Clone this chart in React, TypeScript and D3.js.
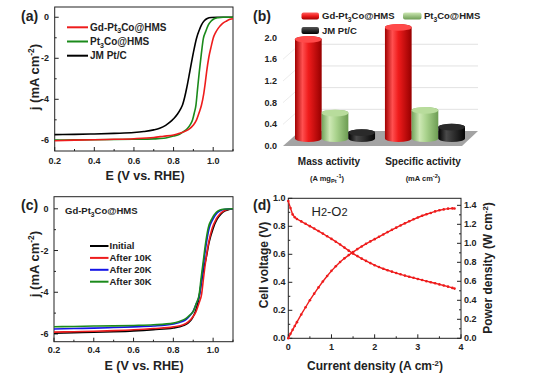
import React from 'react';
import * as d3 from 'd3';

const FONT = "'Liberation Sans', Arial, Helvetica, sans-serif";

// ---------- Panel (a): LSV curves ----------
const aGd: [number, number][] = [[0.2,-6.02],[0.3,-5.99],[0.4,-5.97],[0.5,-5.95],[0.6,-5.92],[0.7,-5.86],[0.75,-5.8],[0.8,-5.74],[0.83,-5.66],[0.86,-5.55],[0.88,-5.44],[0.9,-5.25],[0.916,-5.0],[0.93,-4.62],[0.941,-4.28],[0.952,-3.75],[0.96,-3.2],[0.967,-2.65],[0.978,-1.95],[0.99,-1.42],[1.0,-1.02],[1.012,-0.75],[1.025,-0.54],[1.045,-0.32],[1.068,-0.18],[1.085,-0.1],[1.1,-0.07]];
const aPt3Co: [number, number][] = [[0.2,-5.99],[0.3,-5.98],[0.4,-5.97],[0.5,-5.96],[0.6,-5.95],[0.7,-5.93],[0.75,-5.9],[0.78,-5.84],[0.8,-5.79],[0.83,-5.7],[0.85,-5.58],[0.87,-5.42],[0.885,-5.22],[0.896,-5.0],[0.905,-4.65],[0.913,-4.28],[0.921,-3.5],[0.93,-2.65],[0.94,-1.8],[0.95,-1.05],[0.962,-0.7],[0.975,-0.38],[0.99,-0.18],[1.005,-0.07],[1.025,-0.02],[1.05,0],[1.1,0]];
const aJM: [number, number][] = [[0.2,-5.72],[0.3,-5.71],[0.4,-5.69],[0.5,-5.66],[0.6,-5.62],[0.65,-5.57],[0.7,-5.49],[0.73,-5.41],[0.76,-5.27],[0.78,-5.13],[0.8,-4.95],[0.82,-4.72],[0.835,-4.48],[0.846,-4.25],[0.856,-3.9],[0.866,-3.46],[0.882,-2.65],[0.9,-1.72],[0.916,-1.02],[0.93,-0.62],[0.941,-0.37],[0.955,-0.17],[0.97,-0.06],[0.99,-0.01],[1.02,0],[1.1,0]];

// ---------- Panel (b): 3D bars ----------
const bCategories = ['Mass activity', 'Specific activity'];
const bSeries = ['Gd', 'Pt3Co', 'JM'];
const bMass = [1.83, 0.47, 0.11];
const bSpecific = [2.05, 0.52, 0.21];
const bTicks = [0, 0.4, 0.8, 1.2, 1.6, 2.0];
const bGrid = [0, 0.4, 0.8, 1.2, 1.6];

// ---------- Panel (c): durability ----------
const cInitial: [number, number][] = [[0.2,-5.96],[0.3,-5.94],[0.4,-5.92],[0.5,-5.89],[0.6,-5.85],[0.7,-5.79],[0.8,-5.71],[0.85,-5.6],[0.875,-5.47],[0.895,-5.25],[0.91,-4.95],[0.925,-4.45],[0.94,-3.6],[0.952,-2.9],[0.963,-2.45],[0.98,-1.6],[1.0,-0.94],[1.02,-0.5],[1.04,-0.25],[1.06,-0.1],[1.08,-0.03],[1.1,0]];
const c10K: [number, number][] = [[0.2,-5.91],[0.3,-5.89],[0.4,-5.87],[0.5,-5.84],[0.6,-5.8],[0.7,-5.74],[0.8,-5.66],[0.85,-5.56],[0.875,-5.42],[0.895,-5.22],[0.913,-4.95],[0.928,-4.55],[0.942,-4.1],[0.952,-3.3],[0.962,-2.55],[0.978,-1.6],[0.995,-0.94],[1.015,-0.5],[1.035,-0.24],[1.055,-0.09],[1.075,-0.03],[1.1,0]];
const c20K: [number, number][] = [[0.2,-5.76],[0.3,-5.74],[0.4,-5.72],[0.5,-5.69],[0.6,-5.66],[0.7,-5.62],[0.8,-5.52],[0.84,-5.42],[0.865,-5.3],[0.885,-5.1],[0.9,-4.9],[0.915,-4.55],[0.932,-4.1],[0.943,-3.3],[0.953,-2.55],[0.967,-1.6],[0.98,-0.94],[1.0,-0.48],[1.02,-0.2],[1.04,-0.07],[1.06,-0.02],[1.1,0]];
const c30K: [number, number][] = [[0.2,-5.65],[0.3,-5.64],[0.4,-5.62],[0.5,-5.61],[0.6,-5.59],[0.7,-5.56],[0.8,-5.48],[0.83,-5.4],[0.86,-5.28],[0.88,-5.12],[0.9,-4.92],[0.915,-4.55],[0.93,-4.1],[0.94,-3.3],[0.95,-2.55],[0.963,-1.6],[0.975,-0.94],[0.995,-0.46],[1.015,-0.18],[1.035,-0.06],[1.05,-0.02],[1.1,0]];
const cLegend = ['Initial', 'After 10K', 'After 20K', 'After 30K'];

// ---------- Panel (d): fuel cell ----------
const dCurrent = [0,0.05,0.1,0.15,0.2,0.3,0.4,0.5,0.6,0.7,0.8,0.9,1.0,1.1,1.2,1.3,1.4,1.5,1.6,1.7,1.8,1.9,2.0,2.1,2.2,2.3,2.4,2.5,2.6,2.7,2.8,2.9,3.0,3.1,3.2,3.3,3.4,3.5,3.6,3.7,3.8,3.85];
const dVoltage = [0.98,0.93,0.885,0.865,0.852,0.835,0.818,0.801,0.784,0.766,0.748,0.729,0.71,0.69,0.67,0.648,0.626,0.605,0.587,0.569,0.553,0.537,0.522,0.509,0.497,0.486,0.476,0.466,0.457,0.448,0.44,0.432,0.424,0.416,0.408,0.4,0.393,0.385,0.377,0.369,0.36,0.355];
const dPower = [0,0.047,0.089,0.13,0.17,0.251,0.327,0.401,0.47,0.536,0.598,0.656,0.71,0.759,0.804,0.842,0.876,0.908,0.939,0.967,0.995,1.02,1.044,1.069,1.093,1.118,1.142,1.165,1.188,1.21,1.232,1.253,1.272,1.29,1.306,1.32,1.336,1.348,1.357,1.365,1.368,1.367];

const RED = '#ee1c1c';
const GREEN = '#1b8a1b';
const BLUE = '#1414e6';

type Sc = d3.ScaleLinear<number, number>;

function Frame({ x, y, xMajor, xMinor, yMajor, yMinor, xFmt, yFmt, xLabelY, yLabelX }:
  { x: Sc; y: Sc; xMajor: number[]; xMinor: number[]; yMajor: number[]; yMinor: number[]; xFmt: (v: number) => string; yFmt: (v: number) => string; xLabelY: number; yLabelX: number }) {
  const [x0, x1] = x.range();
  const [y0, y1] = y.range();
  return (
    <g>
      <rect x={x0} y={y1} width={x1 - x0} height={y0 - y1} fill="none" stroke="#222" strokeWidth={1} />
      {xMajor.map((v) => <line key={'xM' + v} x1={x(v)} x2={x(v)} y1={y0} y2={y0 - 4} stroke="#222" />)}
      {xMinor.map((v) => <line key={'xm' + v} x1={x(v)} x2={x(v)} y1={y0} y2={y0 - 2} stroke="#222" />)}
      {yMajor.map((v) => <line key={'yM' + v} x1={x0} x2={x0 + 4} y1={y(v)} y2={y(v)} stroke="#222" />)}
      {yMinor.map((v) => <line key={'ym' + v} x1={x0} x2={x0 + 2} y1={y(v)} y2={y(v)} stroke="#222" />)}
      {xMajor.map((v) => <text key={'xl' + v} x={x(v)} y={xLabelY} textAnchor="middle" fontSize={9} fontWeight="bold" fill="#222">{xFmt(v)}</text>)}
      {yMajor.map((v) => <text key={'yl' + v} x={yLabelX} y={y(v)} dy="0.35em" textAnchor="end" fontSize={9} fontWeight="bold" fill="#222">{yFmt(v)}</text>)}
    </g>
  );
}

function PtCo({ prefix }: { prefix: string }) {
  return (
    <>
      {prefix}Pt<tspan dy={2.5} fontSize="0.7em">3</tspan><tspan dy={-2.5}>Co@HMS</tspan>
    </>
  );
}

function JTitle({ cx, cy }: { cx: number; cy: number }) {
  return (
    <text transform={`translate(${cx},${cy}) rotate(-90)`} textAnchor="middle" dy="0.35em" fontSize={13} fontWeight="bold" fill="#222">
      j (mA cm<tspan dy={-5} fontSize="0.65em">-2</tspan><tspan dy={5}>)</tspan>
    </text>
  );
}

function Cylinder({ cx, rx, ry, base, top, grad, topFill }: { cx: number; rx: number; ry: number; base: number; top: number; grad: string; topFill: string }) {
  const d = `M${cx - rx},${top} L${cx - rx},${base} A${rx},${ry} 0 0 0 ${cx + rx},${base} L${cx + rx},${top} A${rx},${ry} 0 0 0 ${cx - rx},${top} Z`;
  return (
    <g>
      <path d={d} fill={`url(#${grad})`} />
      <ellipse cx={cx} cy={top} rx={rx} ry={ry} fill={topFill} />
    </g>
  );
}

export default function App() {
  const line = (x: Sc, y: Sc) => d3.line<[number, number]>().x((d) => x(d[0])).y((d) => y(d[1])).curve(d3.curveMonotoneX);
  const f1 = d3.format('.1f');

  // (a)
  const ax = d3.scaleLinear().domain([0.2, 1.1]).range([54.7, 233]);
  const ay = d3.scaleLinear().domain([-6.52, 0.5]).range([151, 7]);
  const aLine = line(ax, ay);
  // (c)
  const cxs = d3.scaleLinear().domain([0.2, 1.1]).range([54, 233]);
  const cys = d3.scaleLinear().domain([-6.37, 0.58]).range([341.7, 196.7]);
  const cLine = line(cxs, cys);
  // (d)
  const dx = d3.scaleLinear().domain([0, 4]).range([288.3, 461]);
  const dyL = d3.scaleLinear().domain([0, 1]).range([338.3, 198.3]);
  const dyR = d3.scaleLinear().domain([0, 1.474]).range([338.3, 198.3]);
  const vPts: [number, number][] = dCurrent.map((j, i) => [j, dVoltage[i]]);
  const pPts: [number, number][] = dCurrent.map((j, i) => [j, dPower[i]]);
  const vLine = d3.line<[number, number]>().x((d) => dx(d[0])).y((d) => dyL(d[1]));
  const pLine = d3.line<[number, number]>().x((d) => dx(d[0])).y((d) => dyR(d[1]));

  // (b)
  const bY = d3.scaleLinear().domain([0, 2]).range([146, 37.6]);
  const hPix = (v: number) => bY(0) - bY(v);
  const bBand = d3.scaleBand<string>().domain(bCategories).range([295, 465]).paddingInner(0.11);
  const bInner = d3.scaleBand<string>().domain(bSeries).range([0, bBand.bandwidth()]);
  const bBase = 138.5;
  const grads = ['gRed', 'gGreen', 'gBlack'];
  const tops = ['#ff4a4a', '#b8dc9c', '#2a2a2a'];
  const groups = [bMass, bSpecific];
  const backY = (v: number) => 131 - hPix(v);

  const colorsA = [RED, GREEN, '#000'];
  const colorsC = ['#000', RED, BLUE, GREEN];

  return (
    <svg width={541} height={379} style={{ display: 'block', position: 'absolute', left: 0, top: 0, background: '#fff' }} fontFamily={FONT}>
      <defs>
        <linearGradient id="gRed" x1="0" x2="1" y1="0" y2="0">
          <stop offset="0%" stopColor="#a00000" />
          <stop offset="28%" stopColor="#ff5050" />
          <stop offset="50%" stopColor="#f01c1c" />
          <stop offset="100%" stopColor="#960000" />
        </linearGradient>
        <linearGradient id="gGreen" x1="0" x2="1" y1="0" y2="0">
          <stop offset="0%" stopColor="#72a35a" />
          <stop offset="30%" stopColor="#cde8b4" />
          <stop offset="55%" stopColor="#a9d28c" />
          <stop offset="100%" stopColor="#6c9c52" />
        </linearGradient>
        <linearGradient id="gBlack" x1="0" x2="1" y1="0" y2="0">
          <stop offset="0%" stopColor="#000" />
          <stop offset="30%" stopColor="#4a4a4a" />
          <stop offset="100%" stopColor="#050505" />
        </linearGradient>
        <linearGradient id="sRed" x1="0" x2="0" y1="0" y2="1">
          <stop offset="0%" stopColor="#ff6060" />
          <stop offset="50%" stopColor="#ee1c1c" />
          <stop offset="100%" stopColor="#a00000" />
        </linearGradient>
        <linearGradient id="sGreen" x1="0" x2="0" y1="0" y2="1">
          <stop offset="0%" stopColor="#cde8b4" />
          <stop offset="100%" stopColor="#6c9c52" />
        </linearGradient>
        <linearGradient id="sBlack" x1="0" x2="0" y1="0" y2="1">
          <stop offset="0%" stopColor="#555" />
          <stop offset="100%" stopColor="#000" />
        </linearGradient>
      </defs>

      {/* ===== Panel (a) ===== */}
      <text x={21} y={21} fontSize={14} fontWeight="bold" fill="#222">(a)</text>
      <Frame x={ax} y={ay} xMajor={[0.2, 0.4, 0.6, 0.8, 1.0]} xMinor={[0.3, 0.5, 0.7, 0.9, 1.1]}
        yMajor={[0, -2, -4, -6]} yMinor={[-1, -3, -5]} xFmt={f1} yFmt={(v) => String(v)} xLabelY={163.5} yLabelX={49} />
      {[aJM, aPt3Co, aGd].map((s, i) => (
        <path key={'a' + i} d={aLine(s) || ''} fill="none" stroke={[colorsA[2], colorsA[1], colorsA[0]][i]} strokeWidth={1.6} />
      ))}
      {[0, 1, 2].map((i) => (
        <g key={'al' + i}>
          <line x1={67} x2={88} y1={27.3 + i * 14.2} y2={27.3 + i * 14.2} stroke={colorsA[i]} strokeWidth={2} />
          <text x={90} y={27.3 + i * 14.2} dy="0.35em" fontSize={10} fontWeight="bold" fill="#222">
            {i === 0 ? <PtCo prefix="Gd-" /> : i === 1 ? <PtCo prefix="" /> : 'JM Pt/C'}
          </text>
        </g>
      ))}
      <JTitle cx={34.5} cy={77} />
      <text x={145} y={180} textAnchor="middle" fontSize={12.5} fontWeight="bold" fill="#222">E (V vs. RHE)</text>

      {/* ===== Panel (b) ===== */}
      <text x={253} y={21} fontSize={14} fontWeight="bold" fill="#222">(b)</text>
      <polygon points={`283,146 462,146 478,131 300,131`} fill="#a3a3a3" />
      {bGrid.map((v) => (
        <g key={'bg' + v}>
          {v > 0 && <line x1={300} x2={478} y1={backY(v)} y2={backY(v)} stroke="#e2e2e2" strokeWidth={1} />}
          {v > 0 && <line x1={283} x2={300} y1={bY(v)} y2={backY(v)} stroke="#ececec" strokeWidth={1} />}
        </g>
      ))}
      {bTicks.map((v) => (
        <text key={'bt' + v} x={277} y={bY(v)} dy="0.35em" textAnchor="end" fontSize={9} fontWeight="bold" fill="#222">{f1(v)}</text>
      ))}
      {bCategories.map((c, gi) => (
        <g key={c}>
          {bSeries.map((s, si) => {
            const x0 = (bBand(c) || 0) + (bInner(s) || 0);
            const rx = bInner.bandwidth() / 2;
            return (
              <Cylinder key={s} cx={x0 + rx} rx={rx} ry={3.4} base={bBase} top={bBase - hPix(groups[gi][si])} grad={grads[si]} topFill={tops[si]} />
            );
          })}
        </g>
      ))}
      <text x={329} y={165} textAnchor="middle" fontSize={10} fontWeight="bold" fill="#222">Mass activity</text>
      <text x={327} y={181} textAnchor="middle" fontSize={7.5} fontWeight="bold" fill="#222">
        (A mg<tspan dy={2} fontSize="0.75em">Pt</tspan><tspan dy={-5} fontSize="0.75em">-1</tspan><tspan dy={3}>)</tspan>
      </text>
      <text x={423} y={165} textAnchor="middle" fontSize={10} fontWeight="bold" fill="#222">Specific activity</text>
      <text x={423} y={181} textAnchor="middle" fontSize={7.5} fontWeight="bold" fill="#222">
        (mA cm<tspan dy={-3} fontSize="0.75em">-2</tspan><tspan dy={3}>)</tspan>
      </text>
      {/* legend (b) */}
      <rect x={301.5} y={12.5} width={17.5} height={7} rx={2} fill="url(#sRed)" />
      <text x={322} y={16} dy="0.35em" fontSize={9.5} fontWeight="bold" fill="#222"><PtCo prefix="Gd-" /></text>
      <rect x={403} y={12.5} width={18.5} height={7} rx={2} fill="url(#sGreen)" />
      <text x={424} y={16} dy="0.35em" fontSize={9.5} fontWeight="bold" fill="#222"><PtCo prefix="" /></text>
      <rect x={301.5} y={27} width={17.5} height={7} rx={2} fill="url(#sBlack)" />
      <text x={322} y={30.5} dy="0.35em" fontSize={9.5} fontWeight="bold" fill="#222">JM Pt/C</text>

      {/* ===== Panel (c) ===== */}
      <text x={21} y={210} fontSize={14} fontWeight="bold" fill="#222">(c)</text>
      <Frame x={cxs} y={cys} xMajor={[0.2, 0.4, 0.6, 0.8, 1.0]} xMinor={[0.3, 0.5, 0.7, 0.9, 1.1]}
        yMajor={[0, -2, -4, -6]} yMinor={[-1, -3, -5]} xFmt={f1} yFmt={(v) => String(v)} xLabelY={353} yLabelX={48.5} />
      {[cInitial, c10K, c20K, c30K].map((s, i) => (
        <path key={'c' + i} d={cLine(s) || ''} fill="none" stroke={colorsC[i]} strokeWidth={1.6} />
      ))}
      <text x={65} y={211} dy="0.35em" fontSize={9.5} fontWeight="bold" fill="#222"><PtCo prefix="Gd-" /></text>
      {cLegend.map((t, i) => (
        <g key={t}>
          <line x1={90} x2={108.5} y1={246 + i * 11.9} y2={246 + i * 11.9} stroke={colorsC[i]} strokeWidth={2} />
          <text x={109.5} y={246 + i * 11.9} dy="0.35em" fontSize={9.5} fontWeight="bold" fill="#222">{t}</text>
        </g>
      ))}
      <JTitle cx={34.5} cy={264} />
      <text x={144} y={370} textAnchor="middle" fontSize={12.5} fontWeight="bold" fill="#222">E (V vs. RHE)</text>

      {/* ===== Panel (d) ===== */}
      <text x={253} y={210} fontSize={14} fontWeight="bold" fill="#222">(d)</text>
      <Frame x={dx} y={dyL} xMajor={[0, 1, 2, 3, 4]} xMinor={[0.5, 1.5, 2.5, 3.5]}
        yMajor={[0, 0.2, 0.4, 0.6, 0.8, 1.0]} yMinor={[0.1, 0.3, 0.5, 0.7, 0.9]} xFmt={(v) => String(v)} yFmt={f1} xLabelY={350} yLabelX={285.5} />
      {[0, 0.2, 0.4, 0.6, 0.8, 1.0, 1.2, 1.4].map((v) => (
        <g key={'r' + v}>
          <line x1={461} x2={457} y1={dyR(v)} y2={dyR(v)} stroke="#222" />
          <text x={464} y={dyR(v)} dy="0.35em" fontSize={9} fontWeight="bold" fill="#222">{f1(v)}</text>
        </g>
      ))}
      {[0.1, 0.3, 0.5, 0.7, 0.9, 1.1, 1.3].map((v) => (
        <line key={'rm' + v} x1={461} x2={459} y1={dyR(v)} y2={dyR(v)} stroke="#222" />
      ))}
      <path d={vLine(vPts) || ''} fill="none" stroke={RED} strokeWidth={1.4} />
      <path d={pLine(pPts) || ''} fill="none" stroke={RED} strokeWidth={1.4} />
      {vPts.map((p, i) => <circle key={'vp' + i} cx={dx(p[0])} cy={dyL(p[1])} r={1.3} fill={RED} />)}
      {pPts.map((p, i) => <circle key={'pp' + i} cx={dx(p[0])} cy={dyR(p[1])} r={1.3} fill={RED} />)}
      <text x={311.5} y={216} fontSize={13} fill="#222">H<tspan fontSize={11}>2</tspan>-O<tspan fontSize={11}>2</tspan></text>
      <text transform="translate(264,265) rotate(-90)" textAnchor="middle" dy="0.35em" fontSize={12} fontWeight="bold" fill="#222">Cell voltage (V)</text>
      <text transform="translate(488,268) rotate(-90)" textAnchor="middle" dy="0.35em" fontSize={12} fontWeight="bold" fill="#222">
        Power density (W cm<tspan dy={-4.5} fontSize="0.65em">-2</tspan><tspan dy={4.5}>)</tspan>
      </text>
      <text x={375} y={370} textAnchor="middle" fontSize={12} fontWeight="bold" fill="#222">
        Current density (A cm<tspan dy={-4.5} fontSize="0.65em">-2</tspan><tspan dy={4.5}>)</tspan>
      </text>
    </svg>
  );
}
